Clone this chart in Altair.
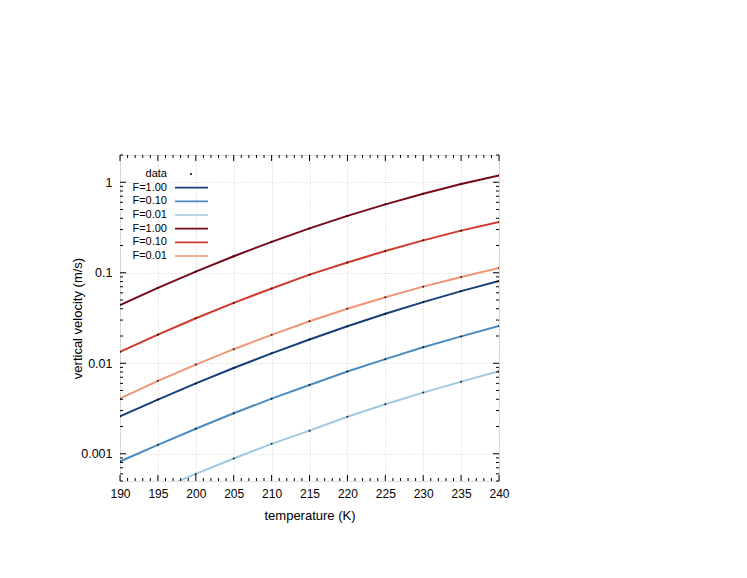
import altair as alt
import pandas as pd

# temperatures (K)
T = [190, 195, 200, 205, 210, 215, 220, 225, 230, 235, 240]

# vertical velocity (m/s)
blue_f100 = [0.00259, 0.00397, 0.00599, 0.00886, 0.01286, 0.01832, 0.02562, 0.03517, 0.04738, 0.06261, 0.0813]
blue_f010 = [0.000822, 0.001255, 0.00189, 0.0028, 0.00406, 0.00575, 0.0081, 0.0111, 0.0150, 0.0198, 0.0258]
blue_f001 = [0.000259, 0.000397, 0.000599, 0.000886, 0.001286, 0.0018, 0.00256, 0.00352, 0.00474, 0.00626, 0.00816]
red_f100 = [0.0439, 0.0680, 0.1029, 0.152, 0.2195, 0.309, 0.425, 0.570, 0.747, 0.956, 1.19]
red_f010 = [0.01334, 0.0207, 0.0314, 0.0464, 0.0670, 0.0953, 0.130, 0.174, 0.228, 0.292, 0.364]
red_f001 = [0.00406, 0.0064, 0.00967, 0.0143, 0.0206, 0.0291, 0.0400, 0.0536, 0.0702, 0.0899, 0.113]

series_keys = ["b100", "b010", "b001", "r100", "r010", "r001"]
series_labels = ["F=1.00", "F=0.10", "F=0.01", "F=1.00", "F=0.10", "F=0.01"]
series_colors = ["#173f7a", "#4a8cc2", "#9ecae1", "#760b1b", "#d03a2c", "#f19476"]
series_vals = [blue_f100, blue_f010, blue_f001, red_f100, red_f010, red_f001]

x_ticks = [190, 195, 200, 205, 210, 215, 220, 225, 230, 235, 240]
x_minor = [v for v in range(190, 241) if v % 5 != 0]
y_ticks = [0.001, 0.01, 0.1, 1]
y_minor = [0.0005, 0.0006, 0.0007, 0.0008, 0.0009,
           0.002, 0.003, 0.004, 0.005, 0.006, 0.007, 0.008, 0.009,
           0.02, 0.03, 0.04, 0.05, 0.06, 0.07, 0.08, 0.09,
           0.2, 0.3, 0.4, 0.5, 0.6, 0.7, 0.8, 0.9, 2]

W, H = 379, 326
FONT = "Liberation Sans"

rows = []
for k, vals in zip(series_keys, series_vals):
    for t, v in zip(T, vals):
        rows.append({"T": t, "w": v, "series": k})
df = pd.DataFrame(rows)

xscale = alt.Scale(domain=[190, 240], nice=False, zero=False)
yscale = alt.Scale(type="log", domain=[0.0005, 2], nice=False)
xaxis = alt.Axis(values=x_ticks, title="temperature (K)", ticks=False, domain=False,
                 grid=True, gridDash=[1, 2], gridColor="#c4c4c4", gridWidth=0.8,
                 labelPadding=7, labelFontSize=12, titleFontSize=13, titleFontWeight="normal",
                 labelFlush=False, labelBound=False, labelOverlap=False,
                 titleY=28, labelFont=FONT, titleFont=FONT, labelColor="#000", titleColor="#000")
yaxis = alt.Axis(values=y_ticks, format="~g", title="vertical velocity (m/s)", ticks=False,
                 domain=False, grid=True, gridDash=[1, 2], gridColor="#c4c4c4", gridWidth=0.8,
                 labelPadding=8, labelFontSize=12.5, titleFontSize=13, titleFontWeight="normal",
                 labelFlush=False, labelBound=False, labelOverlap=False,
                 titleX=-36, titleY=H / 2, labelFont=FONT, titleFont=FONT,
                 labelColor="#000", titleColor="#000")
X = alt.X("T:Q", scale=xscale, axis=xaxis)
Y = alt.Y("w:Q", scale=yscale, axis=yaxis)
color = alt.Color("series:N", scale=alt.Scale(domain=series_keys, range=series_colors), legend=None)

lines = alt.Chart(df).mark_line(strokeWidth=2, clip=True).encode(x=X, y=Y, color=color)
points = alt.Chart(df).mark_point(filled=True, size=4, color="#000", opacity=0.8, clip=True).encode(x=X, y=Y)

xt = pd.DataFrame({"T": x_ticks})
xm = pd.DataFrame({"T": x_minor})
yt = pd.DataFrame({"w": y_ticks})
ym = pd.DataFrame({"w": y_minor})

def rule(data):
    return alt.Chart(data).mark_rule(color="#000", strokeWidth=1)

ticks = [
    rule(xt).encode(x=X, y=alt.value(H), y2=alt.value(H - 6)),
    rule(xt).encode(x=X, y=alt.value(0), y2=alt.value(6)),
    rule(xm).encode(x=X, y=alt.value(H), y2=alt.value(H - 3)),
    rule(xm).encode(x=X, y=alt.value(0), y2=alt.value(3)),
    rule(yt).encode(y=Y, x=alt.value(0), x2=alt.value(6)),
    rule(yt).encode(y=Y, x=alt.value(W), x2=alt.value(W - 6)),
    rule(ym).encode(y=Y, x=alt.value(0), x2=alt.value(3)),
    rule(ym).encode(y=Y, x=alt.value(W), x2=alt.value(W - 3)),
]

main = alt.layer(lines, points, *ticks)

# legend (gnuplot style: text, then sample)
leg = pd.DataFrame({"row": list(range(1, 7)), "label": series_labels, "series": series_keys})
leg_data = pd.DataFrame({"row": [0], "label": ["data"]})
LY = alt.Y("row:Q", scale=alt.Scale(domain=[0, 6], range=[19, 101]), axis=None)
leg_text = alt.Chart(pd.concat([leg_data, leg[["row", "label"]]])).mark_text(
    align="right", baseline="middle", fontSize=11, font=FONT, color="#000"
).encode(x=alt.value(47), y=LY, text="label:N")
leg_lines = alt.Chart(leg).mark_rule(strokeWidth=1.6).encode(
    x=alt.value(55), x2=alt.value(88), y=LY, color=color)
leg_dot = alt.Chart(leg_data).mark_point(filled=True, size=4, color="#000", opacity=1).encode(
    x=alt.value(71), y=LY)
legend = alt.layer(leg_text, leg_lines, leg_dot)

chart = alt.layer(main, legend).resolve_scale(y="independent").properties(
    width=W, height=H,
    autosize=alt.AutoSizeParams(type="none"),
    padding={"left": 112, "top": 147, "right": 240, "bottom": 80},
).configure_view(stroke="#000", strokeWidth=1).configure(font=FONT)

chart.save("out.html", embed_options={"renderer": "svg", "actions": False})
